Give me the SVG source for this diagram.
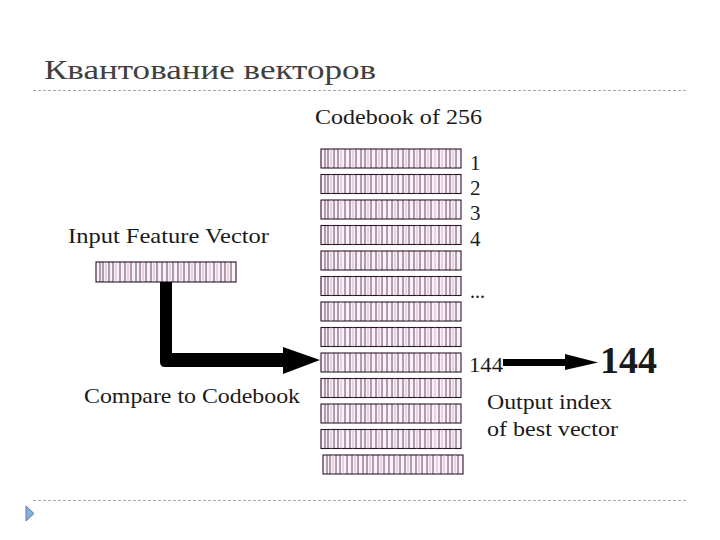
<svg xmlns="http://www.w3.org/2000/svg" xmlns:xlink="http://www.w3.org/1999/xlink" width="720" height="540" viewBox="0 0 720 540">
<style>
.t{font-family:"Liberation Serif","Times New Roman",serif;fill:#1a1a1a}
.dash{stroke:#a8a8a8;stroke-width:1;stroke-dasharray:3 2;fill:none}
.frame{fill:#fcf1f9;stroke:#2a1428;stroke-width:1.1}
.sd{stroke:#3a2238;stroke-width:0.8}
.sp{stroke:#c9a3c4;stroke-width:0.8}
</style>
<defs>
<g id="bar">
<rect class="frame" x="0" y="0" width="140" height="19"/>
<path class="sd" d="M4 0V19M7 0V19M13 0V19M17 0V19M24 0V19M29 0V19M35 0V19M40 0V19M44 0V19M50 0V19M55 0V19M61 0V19M66 0V19M71 0V19M77 0V19M82 0V19M88 0V19M93 0V19M99 0V19M104 0V19M110 0V19M118 0V19M125 0V19M129 0V19M135 0V19"/>
<path class="sp" d="M10 0V19M20 0V19M32 0V19M47 0V19M58 0V19M74 0V19M85 0V19M96 0V19M107 0V19M114 0V19M121 0V19M132 0V19"/>
</g>
</defs>
<rect width="720" height="540" fill="#ffffff"/>
<g id="title">
<text class="t" x="44" y="79" font-size="28" style="fill:#404040" textLength="332" lengthAdjust="spacingAndGlyphs">Квантование векторов</text>
<line class="dash" x1="33" y1="90.5" x2="688" y2="90.5"/>
</g>
<g id="footer">
<line class="dash" x1="33" y1="500.5" x2="688" y2="500.5"/>
<polygon points="26,506 34,513.5 26,521" fill="#86aed6" stroke="#5a7fa8" stroke-width="1"/>
</g>
<g id="codebook">
<text class="t" x="315" y="124" font-size="21" textLength="167" lengthAdjust="spacingAndGlyphs">Codebook of 256</text>
<use xlink:href="#bar" x="321" y="149"/>
<use xlink:href="#bar" x="321" y="174.5"/>
<use xlink:href="#bar" x="321" y="200"/>
<use xlink:href="#bar" x="321" y="225.5"/>
<use xlink:href="#bar" x="321" y="251"/>
<use xlink:href="#bar" x="321" y="276.5"/>
<use xlink:href="#bar" x="321" y="302"/>
<use xlink:href="#bar" x="321" y="327.5"/>
<use xlink:href="#bar" x="321" y="353"/>
<use xlink:href="#bar" x="321" y="378.5"/>
<use xlink:href="#bar" x="321" y="404"/>
<use xlink:href="#bar" x="321" y="429.5"/>
<use xlink:href="#bar" x="323" y="455"/>
<text class="t" x="470" y="170" font-size="21">1</text>
<text class="t" x="470" y="195" font-size="21">2</text>
<text class="t" x="470" y="220" font-size="21">3</text>
<text class="t" x="470" y="246" font-size="21">4</text>
<text class="t" x="470" y="298" font-size="20">...</text>
<text class="t" x="469" y="372" font-size="20" textLength="34" lengthAdjust="spacingAndGlyphs">144</text>
</g>
<g id="input">
<text class="t" x="68" y="243" font-size="21" textLength="201" lengthAdjust="spacingAndGlyphs">Input Feature Vector</text>
<use xlink:href="#bar" transform="translate(96,262) scale(1.0,1.05)"/>
</g>
<g id="compare">
<text class="t" x="84" y="403" font-size="21" textLength="216" lengthAdjust="spacingAndGlyphs">Compare to Codebook</text>
</g>
<g id="output">
<text class="t" x="600" y="373" font-size="37" font-weight="bold" textLength="57" lengthAdjust="spacingAndGlyphs">144</text>
<text class="t" x="487" y="409" font-size="21" textLength="125" lengthAdjust="spacingAndGlyphs">Output index</text>
<text class="t" x="487" y="436" font-size="21" textLength="131" lengthAdjust="spacingAndGlyphs">of best vector</text>
</g>
<g id="connectors">
<path d="M160 282V362Q160 367 165 367H285V353H172V282Z" fill="#000"/>
<polygon points="283,347 320,360 283,374" fill="#000"/>
<rect x="503" y="359" width="66" height="7" fill="#000"/>
<polygon points="565,354 598,362.5 565,370" fill="#000"/>
</g>
</svg>
